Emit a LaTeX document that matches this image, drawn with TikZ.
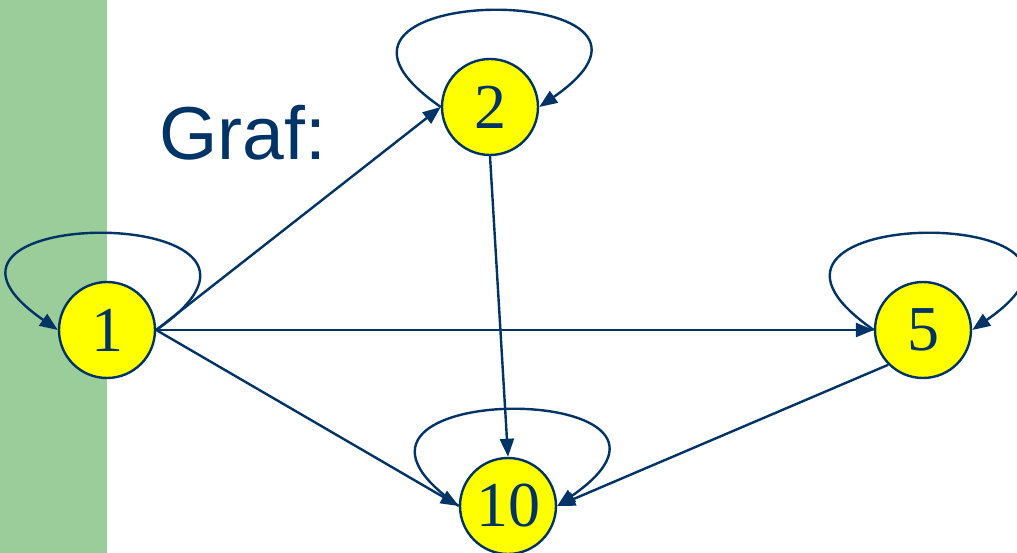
\documentclass[tikz,border=0pt]{standalone}
\usepackage{fontspec}
\setmainfont{Liberation Serif}
\newfontfamily\labelsans{Liberation Sans}
\usetikzlibrary{arrows.meta}
\definecolor{navy}{RGB}{0,51,102}
\definecolor{sidebar}{RGB}{155,205,155}
\definecolor{vfill}{RGB}{255,255,0}
\tikzset{
  vertex/.style={circle, draw=navy, line width=2.4pt, fill=vfill, minimum size=96pt,
    inner sep=0pt, text=navy, font=\fontsize{64}{64}\selectfont},
  edge/.style={draw=navy, line width=2.4pt,
    -{Triangle[length=18pt,width=14pt]}},
}
\begin{document}
\begin{tikzpicture}[x=1pt,y=-1pt]
  \useasboundingbox (0,0) rectangle (1017,553);
  \fill[sidebar] (0,0) rectangle (107,553);

  \node[anchor=base west, text=navy, inner sep=0pt,
        font=\labelsans\fontsize{75}{75}\selectfont] (title) at (159,160) {Graf:};

  \node[vertex] (n1)  at (107,330) {1};
  \node[vertex] (n2)  at (490,107) {2};
  \node[vertex] (n5)  at (923,330) {5};
  \node[vertex] (n10) at (508,506) {10};

  % self-loops
  \draw[edge] (n1.east) .. controls +(185,-128) and +(-185,-128) .. (n1.west);
  \draw[edge] (n2.west) .. controls +(-185,-128) and +(185,-128) .. (n2.east);
  \draw[edge] (n5.west) .. controls +(-185,-128) and +(185,-128) .. (n5.east);
  \draw[edge] (n10.west) .. controls +(-185,-128) and +(185,-128) .. (n10.east);

  % arcs between vertices
  \draw[edge] (n1.east) -- (n2.west);
  \draw[edge] (n1.east) -- (n5.west);
  \draw[edge] (n1.east) -- (n10.west);
  \draw[edge] (n2.south) -- (n10.north);
  \draw[edge] (n5.south west) -- (n10.east);
\end{tikzpicture}
\end{document}
